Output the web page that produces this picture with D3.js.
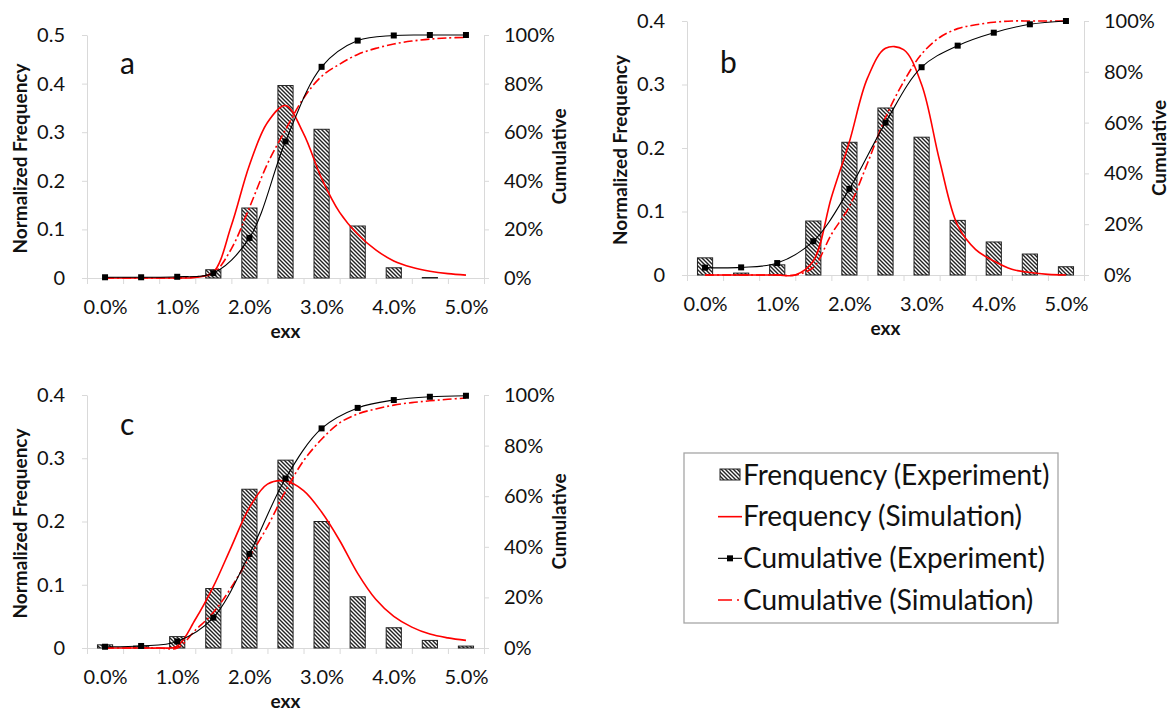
<!DOCTYPE html>
<html>
<head>
<meta charset="utf-8">
<script src="https://cdn.jsdelivr.net/npm/d3@7"></script>
<style>
body { margin: 0; background: #fff; }
svg text { font-family: Lato, "Open Sans", sans-serif; fill: #111; }
</style>
</head>
<body>
<div id="chart"></div>
<script>
// exx categories (%), the bars and the black markers sit on these
var categories = [0.0, 0.5, 1.0, 1.5, 2.0, 2.5, 3.0, 3.5, 4.0, 4.5, 5.0];
var xLabels = [0, 1, 2, 3, 4, 5];
var simX = [0, 0.25, 0.5, 0.75, 1.0, 1.25, 1.5, 1.75, 2.0, 2.25, 2.5, 2.75, 3.0, 3.25, 3.5, 3.75, 4.0, 4.25, 4.5, 4.75, 5.0];

// panel a
var freqExpA = [0, 0, 0, 0.017, 0.144, 0.396, 0.306, 0.107, 0.021, 0.001, 0];
var cumExpA = [0.003, 0.003, 0.005, 0.02, 0.165, 0.562, 0.869, 0.977, 0.998, 1.0, 1.0];
var freqSimA = [0, 0, 0, 0, 0, 0.001, 0.012, 0.108, 0.232, 0.32, 0.355, 0.297, 0.205, 0.135, 0.09, 0.058, 0.035, 0.022, 0.014, 0.009, 0.006];
var cumSimA = [0, 0, 0, 0, 0, 0.005, 0.02, 0.12, 0.29, 0.47, 0.61, 0.74, 0.83, 0.88, 0.92, 0.945, 0.963, 0.975, 0.983, 0.988, 0.99];

// panel b
var freqExpB = [0.027, 0.003, 0.016, 0.085, 0.209, 0.263, 0.217, 0.086, 0.052, 0.033, 0.013];
var cumExpB = [0.029, 0.030, 0.047, 0.133, 0.339, 0.600, 0.818, 0.903, 0.954, 0.987, 1.0];
var freqSimB = [0, 0, 0, 0, 0, 0, 0.022, 0.122, 0.21, 0.31, 0.357, 0.355, 0.3, 0.18, 0.078, 0.04, 0.022, 0.009, 0.004, 0.001, 0];
var cumSimB = [0, 0, 0, 0, 0, 0, 0.03, 0.16, 0.27, 0.44, 0.62, 0.76, 0.87, 0.935, 0.97, 0.985, 0.995, 1.0, 1.0, 1.0, 1.0];

// panel c
var freqExpC = [0.005, 0.003, 0.018, 0.094, 0.251, 0.297, 0.2, 0.081, 0.032, 0.012, 0.003];
var cumExpC = [0.005, 0.008, 0.026, 0.12, 0.372, 0.67, 0.868, 0.949, 0.98, 0.993, 0.997];
var freqSimC = [0, 0, 0, 0, 0.003, 0.045, 0.097, 0.16, 0.222, 0.259, 0.264, 0.249, 0.215, 0.17, 0.118, 0.077, 0.05, 0.033, 0.022, 0.016, 0.012];
var cumSimC = [0, 0, 0, 0, 0, 0.07, 0.14, 0.24, 0.36, 0.48, 0.62, 0.74, 0.825, 0.89, 0.925, 0.945, 0.96, 0.97, 0.977, 0.983, 0.988];

var legendLabels = ["Frenquency (Experiment)", "Frequency (Simulation)", "Cumulative (Experiment)", "Cumulative (Simulation)"];

var width = 1172;
var height = 714;
var axisColor = "#d9d9d9";
var dashDot = "9,3,2,3";

var svg = d3.select("#chart")
    .append("svg")
    .attr("width", width)
    .attr("height", height);

var defs = svg.append("defs");
var hatch = defs.append("pattern")
    .attr("id", "hatch")
    .attr("patternUnits", "userSpaceOnUse")
    .attr("width", 4)
    .attr("height", 4);
hatch.append("rect")
    .attr("width", 4)
    .attr("height", 4)
    .attr("fill", "#fff");
hatch.append("path")
    .attr("d", "M-1,-1 L5,5 M-1,3 L1,5 M3,-1 L5,1")
    .attr("stroke", "#222")
    .attr("stroke-width", 1.4);

function styleAxis(sel) {
    sel.attr("font-family", null).attr("font-size", null);
    sel.select(".domain").attr("stroke", axisColor);
    sel.selectAll(".tick line").attr("stroke", axisColor);
    sel.selectAll(".tick text").style("font-size", "20px").attr("fill", "#111");
}

function drawPanel(p) {
    var g = svg.append("g");

    var xBand = d3.scaleBand().domain(categories).range([p.left, p.right]);
    var bw = xBand.bandwidth();
    var xLin = d3.scaleLinear().domain([-0.25, 5.25]).range([p.left, p.right]);
    var yL = d3.scaleLinear().domain([0, p.yMax]).range([p.bottom, p.top]);
    var yR = d3.scaleLinear().domain([0, 1]).range([p.bottom, p.top]);

    // category boundary ticks
    g.append("g")
        .attr("transform", "translate(0," + p.bottom + ")")
        .call(d3.axisBottom(xLin)
            .tickValues(d3.range(0, 12).map(function(i) { return -0.25 + i * 0.5; }))
            .tickSize(6).tickSizeOuter(0).tickFormat(""))
        .call(styleAxis);

    g.append("g")
        .attr("transform", "translate(0," + p.bottom + ")")
        .call(d3.axisBottom(xLin).tickValues(xLabels).tickSize(0).tickPadding(22)
            .tickFormat(function(d) { return d.toFixed(1) + "%"; }))
        .call(styleAxis)
        .call(function(s) { s.select(".domain").remove(); });

    g.append("g")
        .attr("transform", "translate(" + p.left + ",0)")
        .call(d3.axisLeft(yL).tickValues(d3.range(0, Math.round(p.yMax * 10) + 1).map(function(i) { return i / 10; }))
            .tickSize(5).tickSizeOuter(0).tickPadding(17)
            .tickFormat(function(d) { return d === 0 ? "0" : d3.format(".1f")(d); }))
        .call(styleAxis);

    g.append("g")
        .attr("transform", "translate(" + p.right + ",0)")
        .call(d3.axisRight(yR).tickValues([0, 0.2, 0.4, 0.6, 0.8, 1])
            .tickSize(5).tickSizeOuter(0).tickPadding(15)
            .tickFormat(d3.format(".0%")))
        .call(styleAxis);

    // bars
    var barW = bw * 0.42;
    g.selectAll(".bar")
        .data(p.freqExp)
        .enter()
        .append("rect")
        .attr("class", "bar")
        .attr("x", function(d, i) { return xBand(categories[i]) + (bw - barW) / 2; })
        .attr("y", function(d) { return yL(d); })
        .attr("width", barW)
        .attr("height", function(d) { return p.bottom - yL(d); })
        .attr("fill", "url(#hatch)")
        .attr("stroke", "#222")
        .attr("stroke-width", 1);

    var simLine = function(y) {
        return d3.line()
            .x(function(d, i) { return xLin(simX[i]); })
            .y(function(d) { return Math.min(p.bottom, y(d)); })
            .curve(d3.curveCatmullRom.alpha(0.5));
    };

    g.append("path")
        .datum(p.cumSim)
        .attr("d", simLine(yR))
        .attr("fill", "none")
        .attr("stroke", "#ff0000")
        .attr("stroke-width", 1.6)
        .attr("stroke-dasharray", dashDot);

    g.append("path")
        .datum(p.freqSim)
        .attr("d", simLine(yL))
        .attr("fill", "none")
        .attr("stroke", "#ff0000")
        .attr("stroke-width", 1.6);

    var cumLine = d3.line()
        .x(function(d, i) { return xBand(categories[i]) + bw / 2; })
        .y(function(d) { return yR(d); })
        .curve(d3.curveCatmullRom);

    g.append("path")
        .datum(p.cumExp)
        .attr("d", cumLine)
        .attr("fill", "none")
        .attr("stroke", "#000")
        .attr("stroke-width", 1.1);

    g.selectAll(".marker")
        .data(p.cumExp)
        .enter()
        .append("rect")
        .attr("class", "marker")
        .attr("x", function(d, i) { return xBand(categories[i]) + bw / 2 - 3; })
        .attr("y", function(d) { return yR(d) - 3; })
        .attr("width", 6)
        .attr("height", 6)
        .attr("fill", "#000");

    // titles
    g.append("text")
        .attr("x", (p.left + p.right) / 2)
        .attr("y", p.bottom + 60)
        .attr("text-anchor", "middle")
        .style("font-size", "19px")
        .style("font-weight", "bold")
        .text("exx");

    g.append("text")
        .attr("transform", "translate(" + (p.left - 67) + "," + ((p.top + p.bottom) / 2 + 2) + ") rotate(-90)")
        .attr("dy", "0.35em")
        .attr("text-anchor", "middle")
        .style("font-size", "19px")
        .style("font-weight", "bold")
        .text("Normalized Frequency");

    g.append("text")
        .attr("transform", "translate(" + (p.right + 75) + "," + ((p.top + p.bottom) / 2) + ") rotate(-90)")
        .attr("dy", "0.35em")
        .attr("text-anchor", "middle")
        .style("font-size", "19px")
        .style("font-weight", "bold")
        .text("Cumulative");

    g.append("text")
        .attr("x", p.left + 33)
        .attr("y", p.top + p.labelDy)
        .style("font-size", "30px")
        .text(p.label);
}

drawPanel({ left: 87, right: 484, top: 35, bottom: 278, yMax: 0.5, label: "a", labelDy: 39,
    freqExp: freqExpA, cumExp: cumExpA, freqSim: freqSimA, cumSim: cumSimA });
drawPanel({ left: 687, right: 1084, top: 21, bottom: 275, yMax: 0.4, label: "b", labelDy: 52,
    freqExp: freqExpB, cumExp: cumExpB, freqSim: freqSimB, cumSim: cumSimB });
drawPanel({ left: 87, right: 484, top: 395, bottom: 648, yMax: 0.4, label: "c", labelDy: 40,
    freqExp: freqExpC, cumExp: cumExpC, freqSim: freqSimC, cumSim: cumSimC });

// legend
var legend = svg.append("g");
legend.append("rect")
    .attr("x", 684)
    .attr("y", 453)
    .attr("width", 374)
    .attr("height", 170)
    .attr("fill", "#fff")
    .attr("stroke", "#a6a6a6")
    .attr("stroke-width", 1.3);

var rowY = d3.scalePoint().domain(legendLabels).range([475, 600]);

legend.selectAll(".ltext")
    .data(legendLabels)
    .enter()
    .append("text")
    .attr("class", "ltext")
    .attr("x", 743)
    .attr("y", function(d) { return rowY(d); })
    .attr("dy", "0.35em")
    .style("font-size", "28px")
    .text(function(d) { return d; });

legend.append("rect")
    .attr("x", 720)
    .attr("y", rowY(legendLabels[0]) - 6)
    .attr("width", 20)
    .attr("height", 11)
    .attr("fill", "url(#hatch)")
    .attr("stroke", "#222");

legend.append("line")
    .attr("x1", 718).attr("x2", 742)
    .attr("y1", rowY(legendLabels[1])).attr("y2", rowY(legendLabels[1]))
    .attr("stroke", "#ff0000").attr("stroke-width", 1.6);

legend.append("line")
    .attr("x1", 718).attr("x2", 742)
    .attr("y1", rowY(legendLabels[2])).attr("y2", rowY(legendLabels[2]))
    .attr("stroke", "#000").attr("stroke-width", 1.1);
legend.append("rect")
    .attr("x", 727).attr("y", rowY(legendLabels[2]) - 3)
    .attr("width", 6).attr("height", 6)
    .attr("fill", "#000");

legend.append("line")
    .attr("x1", 718).attr("x2", 742)
    .attr("y1", rowY(legendLabels[3])).attr("y2", rowY(legendLabels[3]))
    .attr("stroke", "#ff0000").attr("stroke-width", 1.6)
    .attr("stroke-dasharray", "14,5,2,3");
</script>
</body>
</html>
